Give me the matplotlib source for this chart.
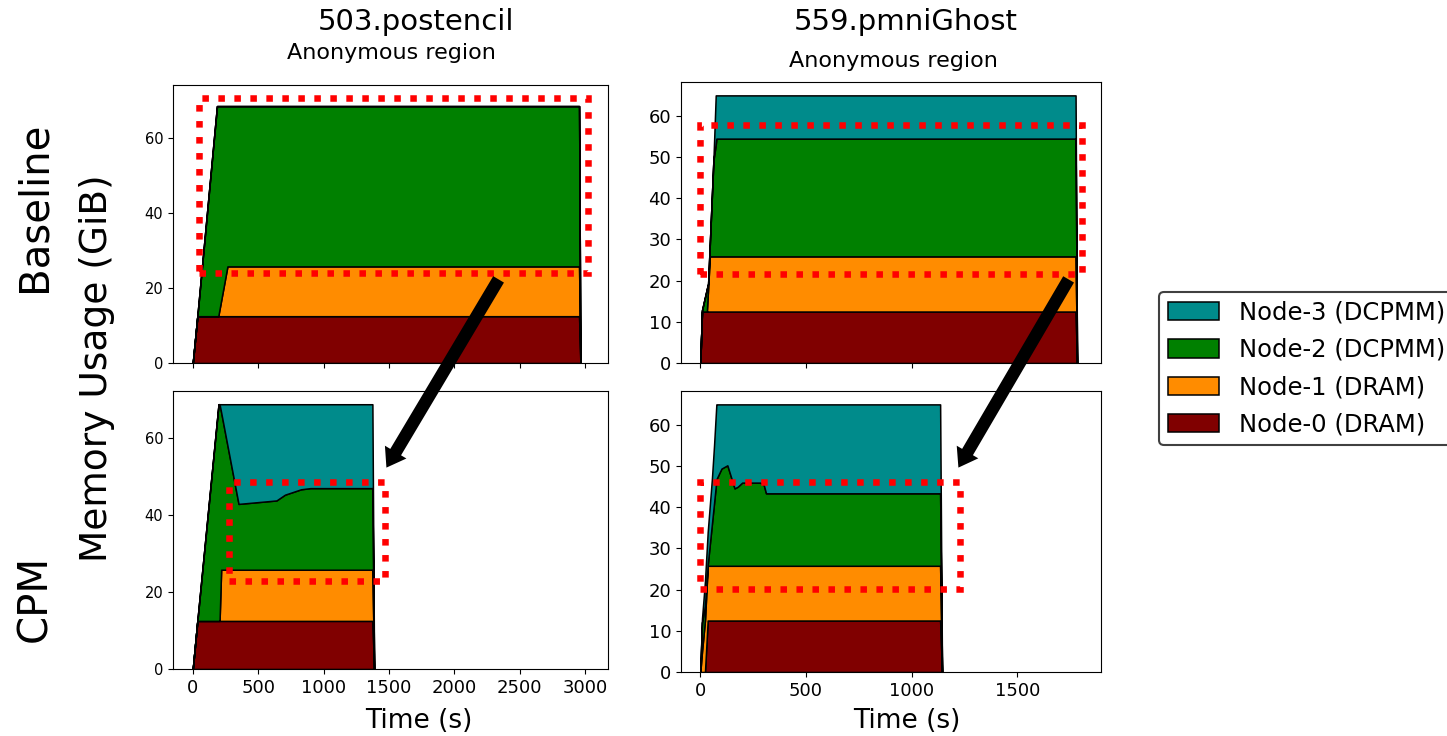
import numpy as np
import matplotlib
matplotlib.use('Agg')
import matplotlib.pyplot as plt
from matplotlib.patches import Rectangle, FancyArrowPatch
from matplotlib.ticker import MultipleLocator

W, H = 1447, 736

labels = ['Node-0 (DRAM)', 'Node-1 (DRAM)', 'Node-2 (DCPMM)', 'Node-3 (DCPMM)']
colors = ['#800000', '#ff8c00', '#008000', '#008b8b']

# 503.postencil, baseline
pst_base_t = [0, 35, 185, 195, 265, 2955, 2965]
pst_base_n0 = [0, 12.5, 12.5, 12.5, 12.5, 12.5, 0]
pst_base_n1 = [0, 0, 0, 0, 13.3, 13.3, 0]
pst_base_n2 = [0, 0, 56.1, 56.1, 42.8, 42.8, 0]
pst_base_n3 = [0, 0, 0, 0, 0, 0, 0]

# 503.postencil, CPM
pst_cpm_t = [0, 35, 197, 205, 217, 350, 640, 705, 828, 900, 1374, 1387]
pst_cpm_n0 = [0, 12.5, 12.5, 12.5, 12.5, 12.5, 12.5, 12.5, 12.5, 12.5, 12.5, 0]
pst_cpm_n1 = [0, 0, 0, 0, 13.3, 13.3, 13.3, 13.3, 13.3, 13.3, 13.3, 0]
pst_cpm_n2 = [0, 0, 56.3, 56.3, 40.9, 17.1, 18.0, 19.5, 20.9, 21.2, 21.2, 0]
pst_cpm_n3 = [0, 0, 0, 0, 2.1, 25.9, 25.0, 23.5, 22.1, 21.8, 21.8, 0]

# 559.pmniGhost, baseline
pmn_base_t = [0, 8, 31, 37, 45, 62, 73, 76, 1776, 1783]
pmn_base_n0 = [0, 12.5, 12.5, 12.5, 12.5, 12.5, 12.5, 12.5, 12.5, 0]
pmn_base_n1 = [0, 0, 0, 5.7, 13.4, 13.4, 13.4, 13.4, 13.4, 0]
pmn_base_n2 = [0, 0.3, 5.5, 1.1, 3.0, 23.3, 27.1, 28.6, 28.6, 0]
pmn_base_n3 = [0, 0, 0, 0, 0, 0, 12.0, 10.5, 10.5, 0]

# 559.pmniGhost, CPM
pmn_cpm_t = [0, 8, 22, 35, 55, 65, 76, 78, 100, 128, 162, 177, 198, 283, 300, 311, 1135, 1144]
pmn_cpm_n0 = [0, 0, 0, 12.5, 12.5, 12.5, 12.5, 12.5, 12.5, 12.5, 12.5, 12.5, 12.5, 12.5, 12.5, 12.5, 12.5, 0]
pmn_cpm_n1 = [0, 5, 12.5, 13.3, 13.3, 13.3, 13.3, 13.3, 13.3, 13.3, 13.3, 13.3, 13.3, 13.3, 13.3, 13.3, 13.3, 0]
pmn_cpm_n2 = [0, 7, 3.5, 0.2, 10.2, 15.2, 20.7, 21.2, 23.6, 24.4, 18.8, 19.2, 20.2, 20.2, 19.7, 17.6, 17.6, 0]
pmn_cpm_n3 = [0, 1, 6, 8, 11, 14, 18.5, 18, 15.6, 14.8, 20.4, 20, 19, 19, 19.5, 21.6, 21.6, 0]

# highlighted regions (x0, y0, x1, y1) in data units
hl_tl = (45, 23.9, 3025, 70.7)
hl_bl = (275, 22.8, 1470, 48.6)
hl_tr = (-1, 21.7, 1806, 57.9)
hl_br = (-1, 20.1, 1228, 46.2)

fig = plt.figure(figsize=(W / 100, H / 100), dpi=100)

def px_axes(l, t, r, b, **kw):
    return fig.add_axes([l / W, 1 - b / H, (r - l) / W, (b - t) / H], **kw)

def px(x, y):
    return (x / W, 1 - y / H)

ax_tl = px_axes(173, 85, 608, 363)
ax_bl = px_axes(173, 391, 608, 669, sharex=ax_tl)
ax_tr = px_axes(681, 82, 1101, 363)
ax_br = px_axes(681, 391, 1101, 672, sharex=ax_tr)

def draw(ax, t, layers, hl):
    polys = ax.stackplot(t, *layers, colors=colors, labels=labels,
                         edgecolor='black', linewidth=1.1)
    x0, y0, x1, y1 = hl
    ax.add_patch(Rectangle((x0, y0), x1 - x0, y1 - y0, fill=False, ec='red',
                           lw=4.7, ls=(0, (1, 1.45)), clip_on=False, zorder=10))
    return polys

polys = draw(ax_tl, pst_base_t, [pst_base_n0, pst_base_n1, pst_base_n2, pst_base_n3], hl_tl)
draw(ax_bl, pst_cpm_t, [pst_cpm_n0, pst_cpm_n1, pst_cpm_n2, pst_cpm_n3], hl_bl)
draw(ax_tr, pmn_base_t, [pmn_base_n0, pmn_base_n1, pmn_base_n2, pmn_base_n3], hl_tr)
draw(ax_br, pmn_cpm_t, [pmn_cpm_n0, pmn_cpm_n1, pmn_cpm_n2, pmn_cpm_n3], hl_br)

for ax in [ax_tl, ax_bl]:
    ax.yaxis.set_major_locator(MultipleLocator(20))
    ax.tick_params(axis='y', labelsize=10.5)
    ax.tick_params(axis='x', labelsize=13)
for ax in [ax_tr, ax_br]:
    ax.yaxis.set_major_locator(MultipleLocator(10))
    ax.tick_params(labelsize=13)
for ax in [ax_tl, ax_tr]:
    ax.tick_params(labelbottom=False)

# titles
fig.text(*px(416, 22), '503.postencil', fontsize=21, ha='center', va='center')
fig.text(*px(906, 22), '559.pmniGhost', fontsize=21, ha='center', va='center')
fig.text(*px(391, 53), 'Anonymous region', fontsize=16, ha='center', va='center')
fig.text(*px(893, 61), 'Anonymous region', fontsize=16, ha='center', va='center')

# axis labels
fig.text(*px(419, 721), 'Time (s)', fontsize=19, ha='center', va='center')
fig.text(*px(907, 721), 'Time (s)', fontsize=19, ha='center', va='center')
fig.text(*px(97, 368), 'Memory Usage (GiB)', fontsize=27, rotation=90, ha='center', va='center')
fig.text(*px(35, 207), 'Baseline', fontsize=29, rotation=90, ha='center', va='center')
fig.text(*px(35, 598), 'CPM', fontsize=29, rotation=90, ha='center', va='center')

# arrows
for tail, tip in [((500, 277), (385, 470)), ((1070, 277), (957, 470))]:
    fig.add_artist(FancyArrowPatch(px(*tail), px(*tip), transform=fig.transFigure,
                                   arrowstyle='simple,head_length=1.3,head_width=1.8,tail_width=0.9',
                                   mutation_scale=10, color='black', lw=0))

leg = fig.legend(polys[::-1], labels[::-1], loc='upper left', bbox_to_anchor=px(1159, 292),
                 borderaxespad=0, fontsize=17.5, handlelength=2.1, handleheight=0.8,
                 handletextpad=0.85, labelspacing=0.55, borderpad=0.35, framealpha=1)
leg.get_frame().set_edgecolor('0.25')
leg.get_frame().set_linewidth(1.5)

fig.savefig('out.png', dpi=100)
